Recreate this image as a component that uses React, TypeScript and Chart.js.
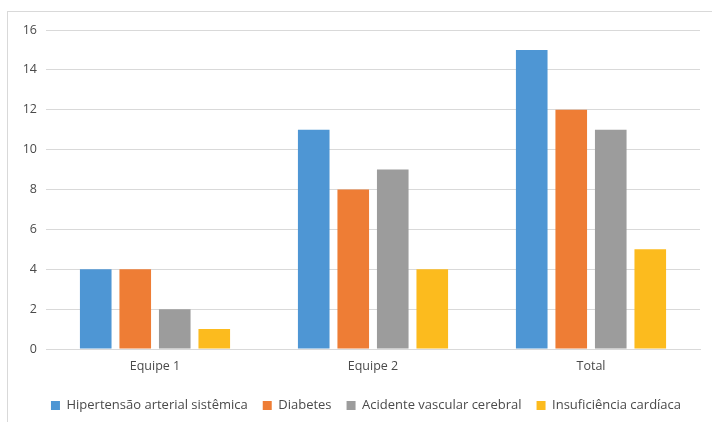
import React, { useEffect, useRef } from "react";
import { Chart, registerables } from "chart.js";

Chart.register(...registerables);

const categories = ["Equipe 1", "Equipe 2", "Total"];
const seriesNames = [
  "Hipertensão arterial sistêmica",
  "Diabetes",
  "Acidente vascular cerebral",
  "Insuficiência cardíaca",
];
const hipertensao = [4, 11, 15];
const diabetes = [4, 8, 12];
const avc = [2, 9, 11];
const insuficiencia = [1, 4, 5];
const seriesColors = ["#4E96D4", "#EE7D35", "#9C9C9C", "#FCBB1E"];

const FONT = "'Open Sans', 'Noto Sans', sans-serif";
const TEXT = "#4A4A4A";
const GRID = "#D9D9D9";

// Thin frame around the chart, as in the spreadsheet export
const framePlugin = {
  id: "frame",
  beforeDraw(chart: Chart) {
    const ctx = chart.ctx;
    ctx.save();
    ctx.fillStyle = "#ffffff";
    ctx.fillRect(0, 0, chart.width, chart.height);
    ctx.strokeStyle = GRID;
    ctx.lineWidth = 1;
    ctx.strokeRect(7.5, 11.5, chart.width + 20, chart.height + 20);
    ctx.restore();
  },
};

// Nudge the legend row to the right so it sits centred under the frame
const legendShiftPlugin = {
  id: "legendShift",
  afterLayout(chart: any) {
    const lg = chart.legend;
    if (!lg) return;
    lg.left += 16;
    lg.right += 16;
  },
};

export default function App() {
  const ref = useRef<HTMLCanvasElement | null>(null);

  useEffect(() => {
    if (!ref.current) return;
    const values = [hipertensao, diabetes, avc, insuficiencia];
    const chart = new Chart(ref.current, {
      type: "bar",
      data: {
        labels: categories,
        datasets: seriesNames.map((name, i) => ({
          label: name,
          data: values[i],
          backgroundColor: seriesColors[i],
          borderWidth: 0,
          categoryPercentage: 0.725,
          barPercentage: 0.8,
        })),
      },
      options: {
        animation: false,
        responsive: false,
        maintainAspectRatio: false,
        layout: { padding: { top: 30, right: 12, bottom: 0, left: 0 } },
        plugins: {
          tooltip: { enabled: false },
          legend: {
            position: "bottom",
            labels: {
              boxWidth: 9,
              boxHeight: 9,
              padding: 15,
              color: TEXT,
              font: { family: FONT, size: 13 },
            },
          },
        },
        scales: {
          x: {
            grid: { display: false, drawTicks: false },
            border: { display: true, color: GRID },
            ticks: { color: TEXT, font: { family: FONT, size: 12.5 }, padding: 10 },
          },
          y: {
            min: 0,
            max: 16,
            ticks: {
              stepSize: 2,
              color: TEXT,
              font: { family: FONT, size: 12.5 },
              padding: 9,
            },
            grid: { color: GRID, drawTicks: false },
            border: { display: false },
            afterFit(scale: any) {
              scale.width = 46;
            },
          },
        },
      },
      plugins: [framePlugin, legendShiftPlugin],
    });
    return () => chart.destroy();
  }, []);

  return (
    <div style={{ position: "fixed", left: 0, top: 0, width: 712, height: 422 }}>
      <canvas ref={ref} width={712} height={422} style={{ display: "block" }} />
    </div>
  );
}
